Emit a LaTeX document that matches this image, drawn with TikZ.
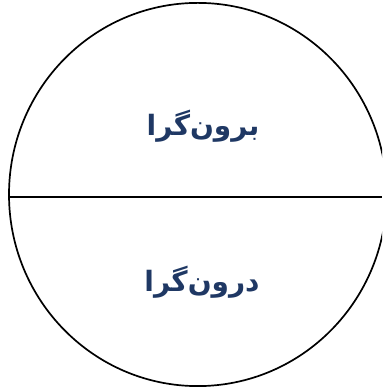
\documentclass[tikz,border=0pt]{standalone}
\usepackage{fontspec}
\TeXXeTstate=1
\newfontfamily\arabicfont[Script=Arabic]{DejaVu Sans}
\definecolor{txtblue}{HTML}{1F3864}
\begin{document}
\begin{tikzpicture}[x=1pt,y=1pt,
  lbl/.style={font=\arabicfont\bfseries\fontsize{28}{32}\selectfont, text=txtblue, inner sep=0pt}]
\useasboundingbox (0,0) rectangle (382,387);
\begin{scope}
\clip (0,0) rectangle (382,387);
\draw[line width=1.7pt] (197.8,192.5) ellipse [x radius=188.8, y radius=191.6];
\coordinate (L) at (9,189.7);
\coordinate (R) at (382,189.7);
\draw[line width=1.7pt] (L) -- (R);
\end{scope}
\node[lbl] (top) at (203,261) {\beginR برون‌گرا\endR};
\node[lbl] (bot) at (202,105) {\beginR درون‌گرا\endR};
\end{tikzpicture}
\end{document}
